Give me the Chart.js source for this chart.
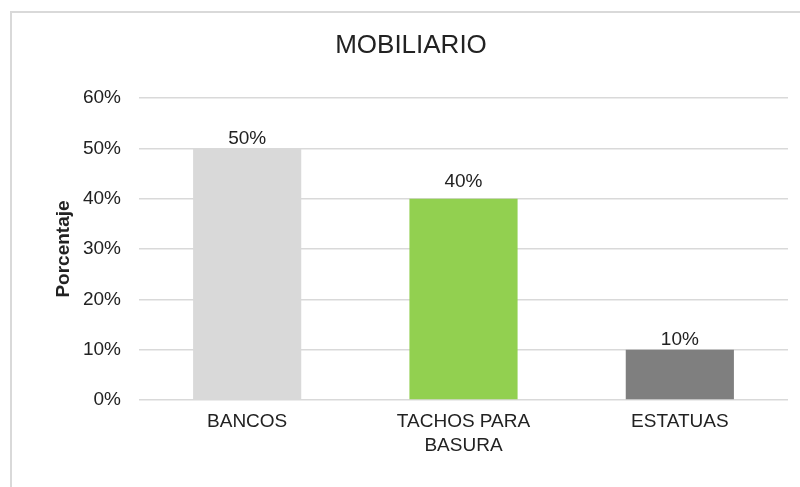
<!DOCTYPE html>
<html>
<head>
<meta charset="utf-8">
<script src="https://cdn.jsdelivr.net/npm/chart.js@4"></script>
<style>
  html, body { margin: 0; padding: 0; background: #fff; overflow: hidden; }
  #box {
    position: absolute; left: 10px; top: 11px;
    width: 802px; height: 480px;
    box-sizing: border-box;
    border: 2px solid #d9d9d9;
  }
  #myChart { display: block; }
</style>
</head>
<body>
<div id="box"><canvas id="myChart" width="798" height="476"></canvas></div>
<script>
// datos del grafico
const categories = ['BANCOS', ['TACHOS PARA', 'BASURA'], 'ESTATUAS'];
const values = [50, 40, 10];
const barColors = ['#d9d9d9', '#92d050', '#7f7f7f'];
const yTicks = [0, 10, 20, 30, 40, 50, 60];
const chartTitle = 'MOBILIARIO';

const textColor = '#222';
const fontFam = 'Liberation Sans, Arial, sans-serif';
// separacion (px) entre la etiqueta y la barra, como en el original
const labelGap = [4, 12, 5];

// titulo centrado en todo el recuadro (no solo en el area del grafico)
const centeredTitle = {
  id: 'centeredTitle',
  afterDraw(chart) {
    const ctx = chart.ctx;
    ctx.save();
    ctx.font = '26px ' + fontFam;
    ctx.fillStyle = textColor;
    ctx.textAlign = 'center';
    ctx.textBaseline = 'alphabetic';
    ctx.fillText(chartTitle, chart.width / 2, 40);
    ctx.restore();
  }
};

// etiquetas de valor encima de cada barra
const valueLabels = {
  id: 'valueLabels',
  afterDatasetsDraw(chart) {
    const ctx = chart.ctx;
    const meta = chart.getDatasetMeta(0);
    ctx.save();
    ctx.font = '19px ' + fontFam;
    ctx.fillStyle = textColor;
    ctx.textAlign = 'center';
    ctx.textBaseline = 'alphabetic';
    meta.data.forEach((bar, i) => {
      ctx.fillText(values[i] + '%', bar.x, bar.y - labelGap[i]);
    });
    ctx.restore();
  }
};

const ctx = document.getElementById('myChart');
new Chart(ctx, {
  type: 'bar',
  data: {
    labels: categories,
    datasets: [{
      data: values,
      backgroundColor: barColors,
      borderWidth: 0,
      barPercentage: 0.5,
      categoryPercentage: 1.0
    }]
  },
  options: {
    responsive: false,
    animation: false,
    layout: { padding: { left: 0, right: 22, top: 85, bottom: 0 } },
    plugins: {
      legend: { display: false },
      tooltip: { enabled: false },
      title: { display: false }
    },
    scales: {
      x: {
        grid: { display: false },
        border: { display: false },
        ticks: {
          color: textColor,
          font: { family: fontFam, size: 19, lineHeight: 1.3 },
          padding: 1,
          maxRotation: 0,
          autoSkip: false
        },
        afterFit(scale) { scale.height = 89; }
      },
      y: {
        min: 0,
        max: 60,
        afterBuildTicks(scale) { scale.ticks = yTicks.map(v => ({ value: v })); },
        grid: { color: '#d9d9d9', lineWidth: 1.5, drawTicks: false },
        border: { display: false },
        ticks: {
          color: textColor,
          font: { family: fontFam, size: 19 },
          padding: 18,
          callback: v => v + '%'
        },
        title: {
          display: true,
          text: 'Porcentaje',
          color: textColor,
          font: { family: fontFam, size: 19, weight: 'bold' },
          padding: { top: 40, bottom: 0 }
        },
        afterFit(scale) { scale.width = 127; }
      }
    }
  },
  plugins: [valueLabels, centeredTitle]
});
</script>
</body>
</html>
